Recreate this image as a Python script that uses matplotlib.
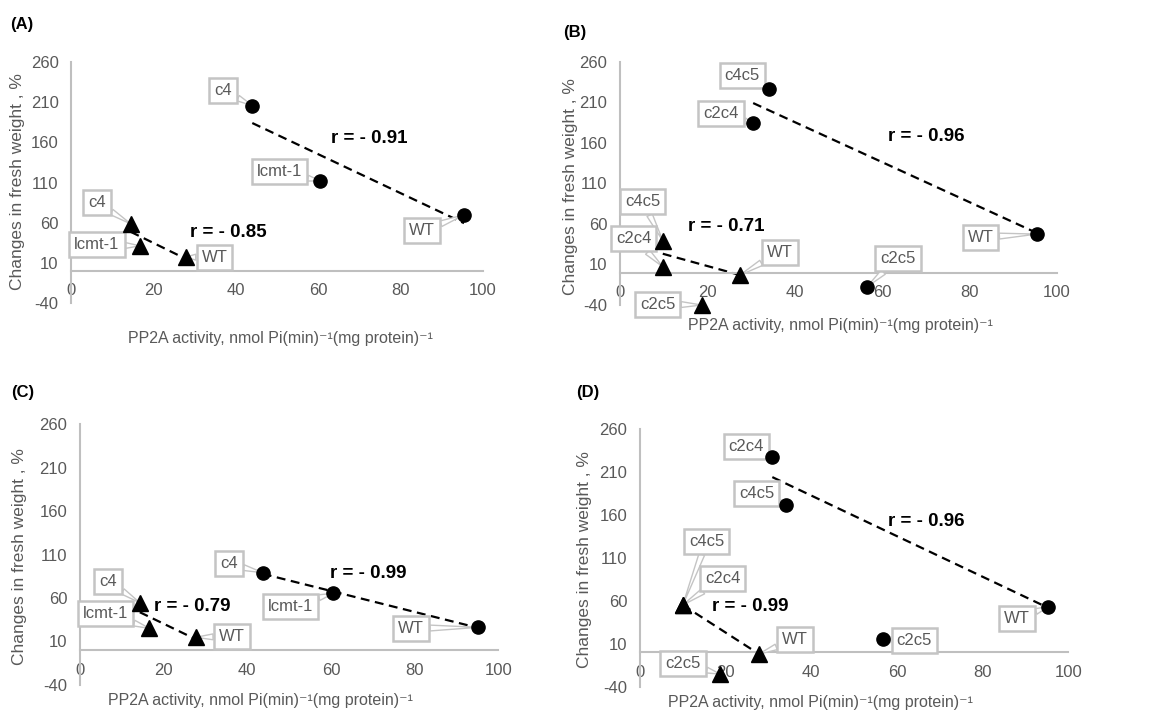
import numpy as np
import matplotlib.pyplot as plt

plt.rcParams['font.family'] = ['Liberation Sans', 'DejaVu Sans']
plt.rcParams['axes.unicode_minus'] = False

# Panel (A): single mutants
a_circ_lab = ['c4', 'lcmt-1', 'WT']
a_circ_x = [44.0, 60.5, 95.4]
a_circ_y = [205.8, 112.0, 69.7]
a_tri_lab = ['c4', 'lcmt-1', 'WT']
a_tri_x = [14.5, 16.7, 27.8]
a_tri_y = [58.5, 31.2, 17.1]

# Panel (B): double mutants
b_circ_lab = ['c4c5', 'c2c4', 'WT', 'c2c5']
b_circ_x = [34.2, 30.5, 95.4, 56.6]
b_circ_y = [226.7, 184.0, 47.5, -17.4]
b_tri_lab = ['c4c5', 'c2c4', 'WT', 'c2c5']
b_tri_x = [9.8, 9.8, 27.5, 18.7]
b_tri_y = [39.3, 7.2, -3.0, -40.0]

# Panel (C)
c_circ_lab = ['c4', 'lcmt-1', 'WT']
c_circ_x = [43.7, 60.6, 95.2]
c_circ_y = [89.1, 65.4, 26.3]
c_tri_lab = ['c4', 'lcmt-1', 'WT']
c_tri_x = [14.3, 16.6, 27.7]
c_tri_y = [54.6, 25.1, 14.8]

# Panel (D)
d_circ_lab = ['c2c4', 'c4c5', 'WT', 'c2c5']
d_circ_x = [30.9, 34.2, 95.3, 56.8]
d_circ_y = [227.7, 171.8, 53.2, 15.1]
d_tri_lab = ['c4c5', 'c2c4', 'WT', 'c2c5']
d_tri_x = [10.0, 10.0, 27.8, 18.7]
d_tri_y = [55.2, 55.2, -2.0, -25.3]

r_text = {'A': ('r = - 0.91', 'r = - 0.85'), 'B': ('r = - 0.96', 'r = - 0.71'),
          'C': ('r = - 0.99', 'r = - 0.79'), 'D': ('r = - 0.96', 'r = - 0.99')}

yticks = [-40, 10, 60, 110, 160, 210, 260]
xticks = [0, 20, 40, 60, 80, 100]

GRAY = '#595959'
LINE = '#bfbfbf'

fig = plt.figure(figsize=(11.76, 7.11), dpi=100)

panels = [
    # letter, axes rect, circles, triangles, label offsets (px), r positions, letter pos, xlabel pos, ylabel pos
    ('A', [0.0604, 0.5738, 0.3503, 0.339],
     (a_circ_lab, a_circ_x, a_circ_y), (a_tri_lab, a_tri_x, a_tri_y),
     [(-29, 15), (-41, 9), (-42, -16)], [(-34, 21), (-43, 1), (29, 0)],
     [(72.5, 164.8), (38.2, 48.2)], (22, 25), (280, 338), (18, 182)),
    ('B', [0.5272, 0.571, 0.3713, 0.342],
     (b_circ_lab, b_circ_x, b_circ_y), (b_tri_lab, b_tri_x, b_tri_y),
     [(-27, 13), (-32, 10), (-56, -3), (31, 28)], [(-20, 39), (-29, 28), (40, 23), (-44, 1)],
     [(70.2, 167.5), (24.4, 56.5)], (575, 32), (840, 325), (570, 187)),
    ('C', [0.068, 0.0366, 0.3557, 0.367],
     (c_circ_lab, c_circ_x, c_circ_y), (c_tri_lab, c_tri_x, c_tri_y),
     [(-34, 9), (-43, -13), (-67, -1)], [(-32, 21), (-44, 15), (36, 1)],
     [(68.9, 88.3), (26.9, 50.0)], (23, 393), (260, 700), (20, 557)),
    ('D', [0.5442, 0.0342, 0.3642, 0.362],
     (d_circ_lab, d_circ_x, d_circ_y), (d_tri_lab, d_tri_x, d_tri_y),
     [(-26, 11), (-30, 11), (-31, -12), (31, -1)], [(24, 64), (40, 27), (36, 15), (-37, 11)],
     [(66.9, 152.3), (25.8, 54.0)], (588, 393), (820, 702), (585, 560)),
]

W, H = 1176, 711

for letter, rect, circ, tri, circ_off, tri_off, rpos, lpos, xlpos, ylpos in panels:
    ax = fig.add_axes(rect)
    ax.set_xlim(0, 100)
    ax.set_ylim(-40, 260)
    ax.set_xticks(xticks)
    ax.set_yticks(yticks)
    ax.spines['top'].set_visible(False)
    ax.spines['right'].set_visible(False)
    ax.spines['bottom'].set_position(('data', 0))
    for s in ['left', 'bottom']:
        ax.spines[s].set_color(LINE)
        ax.spines[s].set_linewidth(1.5)
    ax.tick_params(axis='both', length=0, labelsize=12, labelcolor=GRAY)
    ax.tick_params(axis='x', pad=9)
    ax.tick_params(axis='y', pad=9)
    ax.patch.set_alpha(0)

    for (labs, xs, ys), marker, ms, offs in [(circ, 'o', 9.5, circ_off), (tri, '^', 11, tri_off)]:
        # trend line from the first three points
        fx, fy = np.array(xs[:3]), np.array(ys[:3])
        k, b = np.polyfit(fx, fy, 1)
        xx = np.array([fx.min(), fx.max()])
        ax.plot(xx, k * xx + b, color='black', lw=1.6, ls=(0, (4, 2.5)), zorder=2.5)
        ax.plot(xs, ys, ls='none', marker=marker, ms=ms, color='black', zorder=4, clip_on=False)
        for lab, x, y, off in zip(labs, xs, ys, offs):
            ax.annotate(lab, (x, y), xytext=off, textcoords='offset pixels',
                        ha='center', va='center', fontsize=12, color=GRAY, zorder=3,
                        bbox=dict(boxstyle='square,pad=0.3', fc='white', ec='#c4c4c4', lw=1.8),
                        arrowprops=dict(arrowstyle='wedge,tail_width=0.35', fc='white',
                                        ec='#c4c4c4', lw=1.0, shrinkA=0, shrinkB=0),
                        annotation_clip=False)

    for (tx, ty), txt in zip(rpos, r_text[letter]):
        ax.text(tx, ty, txt, ha='center', va='center', fontsize=13.5,
                fontweight='bold', color='black', zorder=5)

    fig.text(lpos[0] / W, 1 - lpos[1] / H, '(%s)' % letter, ha='center', va='center',
             fontsize=12, fontweight='bold')
    fig.text(xlpos[0] / W, 1 - xlpos[1] / H,
             'PP2A activity, nmol Pi(min)\u207b\u00b9(mg protein)\u207b\u00b9',
             ha='center', va='center', fontsize=11.5, color=GRAY)
    fig.text(ylpos[0] / W, 1 - ylpos[1] / H, 'Changes in fresh weight , %', rotation=90,
             ha='center', va='center', fontsize=12.5, color=GRAY)

fig.savefig('out.png', dpi=100)
